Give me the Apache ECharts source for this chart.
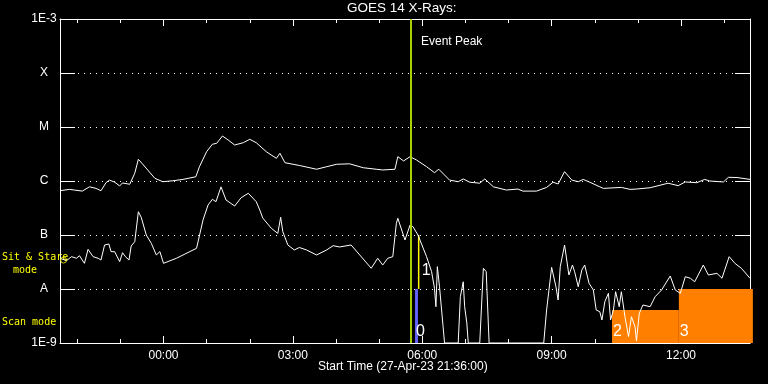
<!DOCTYPE html>
<html><head><meta charset="utf-8">
<script src="https://cdn.jsdelivr.net/npm/echarts@6/dist/echarts.min.js"></script>
<style>html,body{margin:0;padding:0;background:#000}#c{width:768px;height:384px}</style>
</head><body><div id="c"></div>
<script>
// ---- axis definitions ----
const startMinuteOfDay = 21 * 60 + 36;   // 21:36 on 27-Apr-23
const spanMinutes = 960;                  // 16 hours shown
const yTickLabels = {'-9': '1E-9', '-8': 'A', '-7': 'B', '-6': 'C', '-5': 'M', '-4': 'X', '-3': '1E-3'};

// ---- long channel (1-8 A), minutes since start / flux W m^-2 ----
const longMin = [0,13,20,31,41,50,57,64,69,76,83,87,97,104,109,114,122,132,143,157,171,189,194,204,212,218,226,234,243,255,264,273,287,301,306,313,333,357,371,385,403,422,440,449,466,470,478,487,496,510,521,527,542,554,561,570,584,591,603,621,637,644,663,677,686,693,702,712,721,728,737,751,756,781,793,802,821,846,860,870,886,897,904,923,930,942,960];
const longFlux = [6.6e-7,7.0e-7,6.8e-7,6.5e-7,7.8e-7,7.3e-7,6.6e-7,9.3e-7,1.04e-6,9.5e-7,8.1e-7,9.2e-7,8.7e-7,1.39e-6,2.52e-6,2.13e-6,1.60e-6,1.12e-6,9.7e-7,1.01e-6,1.07e-6,1.20e-6,1.84e-6,3.49e-6,4.79e-6,4.99e-6,6.81e-6,5.74e-6,4.64e-6,5.12e-6,5.92e-6,5.12e-6,3.49e-6,2.63e-6,3.26e-6,2.18e-6,1.94e-6,1.65e-6,1.84e-6,2.04e-6,2.08e-6,1.76e-6,1.65e-6,1.60e-6,1.65e-6,2.82e-6,2.35e-6,2.82e-6,2.45e-6,1.84e-6,1.43e-6,1.65e-6,1.04e-6,9.7e-7,1.09e-6,9.5e-7,9.1e-7,1.09e-6,7.8e-7,6.8e-7,7.1e-7,6.5e-7,6.5e-7,7.6e-7,9.5e-7,8.8e-7,1.49e-6,1.04e-6,9.7e-7,1.07e-6,9.5e-7,7.8e-7,7.3e-7,7.6e-7,7.0e-7,7.1e-7,7.5e-7,9.1e-7,8.2e-7,9.6e-7,9.3e-7,1.07e-6,1.0e-6,9.6e-7,1.17e-6,1.16e-6,1.07e-6];

// ---- short channel (0.5-4 A) ----
const shortMin = [0,9,16,23,27,34,39,46,53,57,62,68,71,76,83,87,91,96,99,104,109,113,120,127,134,139,144,162,190,199,206,212,217,224,231,243,252,262,273,278,282,294,303,307,310,317,326,333,343,357,371,380,389,405,417,433,442,449,456,463,468,470,480,487,491,498,510,517,521,523,525,528,533,535,554,557,561,563,566,568,584,589,593,597,673,677,684,690,693,696,702,708,713,716,721,726,730,736,742,746,751,754,758,763,766,770,773,778,781,786,791,795,800,802,806,811,821,828,837,849,856,863,870,877,883,895,902,914,921,931,939,948,960];
const shortFlux = [3.71e-8,3.34e-8,3.97e-8,3.71e-8,4.14e-8,2.99e-8,5.43e-8,3.97e-8,3.71e-8,3.44e-8,
 6.53e-8,6.81e-8,4.91e-8,4.91e-8,3.21e-8,4.70e-8,3.97e-8,3.44e-8,6.25e-8,7.52e-8,
 2.70e-7,2.13e-7,1.0e-7,7.02e-8,4.27e-8,4.91e-8,2.99e-8,3.71e-8,5.68e-8,1.90e-7,
 3.60e-7,4.58e-7,4.14e-7,7.8e-7,4.45e-7,3.44e-7,4.91e-7,5.92e-7,4.14e-7,2.90e-7,
 2.07e-7,1.33e-7,1.07e-7,2.13e-7,1.15e-7,6.53e-8,5.28e-8,5.87e-8,5.28e-8,4.27e-8,
 5.28e-8,6.34e-8,6.0e-8,6.53e-8,4.27e-8,2.42e-8,3.71e-8,2.78e-8,3.71e-8,3.97e-8,
 1.65e-7,2.04e-7,8.08e-8,1.53e-7,1.43e-7,1.0e-7,3.97e-8,2.09e-8,1.03e-8,4.70e-9,
 2.59e-8,1.10e-8,2.0e-9,1e-9,1e-9,7.2e-9,1.36e-8,4.70e-9,2.34e-9,1e-9,
 1e-9,2.42e-8,2.09e-8,1e-9,1e-9,4.08e-9,2.52e-8,1.10e-8,6.25e-9,2.59e-8,
 6.53e-8,1.82e-8,2.78e-8,2.09e-8,1.10e-8,2.25e-8,2.78e-8,1.28e-8,9.6e-9,4.08e-9,
 3.80e-9,2.67e-9,5.82e-9,8.32e-9,2.67e-9,4.08e-9,8.9e-9,4.70e-9,8.9e-9,3.07e-9,
 1.31e-9,3.07e-9,2.0e-9,1.1e-9,3.55e-9,5.06e-9,4.70e-9,7.2e-9,9.6e-9,1.74e-8,
 9.6e-9,8.32e-9,1.69e-8,1.58e-8,1.36e-8,2.78e-8,1.82e-8,1.95e-8,1.58e-8,3.97e-8,
 2.99e-8,2.42e-8,1.58e-8];

// ---- event / mode markers ----
const eventPeakMin = 488;
const modeStartMin = [494, 768, 861];
const modeEndMin = [498, 861, 964];
const modeTopFlux = [1e-8, 4.1e-9, 1e-8];
const modeLabels = ['0', '2', '3'];
const modeColors = ['#6464ff', '#ff8000', '#ff8000'];
const stareLineMin = [499];
const stareLineLow = [1e-8];
const stareLineHigh = [1e-7];
const stareLineLabels = ['1'];
const stareMarkMin = [5];
const stareMarkFlux = [3.44e-8];

// ---- build categories (one per minute) ----
const pad = n => String(n).padStart(2, '0');
const categories = [];
for (let i = 0; i <= spanMinutes; i++) {
  const m = (startMinuteOfDay + i) % 1440;
  categories.push(pad(Math.floor(m / 60)) + ':' + pad(m % 60));
}
const isHour = i => (startMinuteOfDay + i) % 60 === 0;
const isThreeHour = i => (startMinuteOfDay + i) % 180 === 0;

const FONT = 'Liberation Sans';
const MONO = 'DejaVu Sans Mono';
const zip = (a, b) => a.map((v, i) => [v, b[i]]);

function xAx(position, major, showLine, showLabel) {
  return {
    type: 'category', data: categories, boundaryGap: false, position: position,
    axisLine: {show: showLine, lineStyle: {color: '#fff', width: 1}},
    axisTick: {show: true, inside: true, length: major ? 7 : 4,
      interval: major ? (i) => isThreeHour(i) : (i) => isHour(i),
      lineStyle: {color: '#fff', width: 1}},
    axisLabel: {show: showLabel, interval: (i) => isThreeHour(i), color: '#fff',
      fontFamily: FONT, fontSize: 12, margin: 7},
    splitLine: {show: false}
  };
}

const chart = echarts.init(document.getElementById('c'), null, {renderer: 'canvas'});
chart.setOption({
  backgroundColor: '#000',
  animation: false,
  grid: {left: 60, right: 18, top: 19, bottom: 41, containLabel: false},
  xAxis: [
    xAx('bottom', true, true, true),
    xAx('bottom', false, false, false),
    xAx('top', true, true, false),
    xAx('top', false, false, false)
  ],
  yAxis: [
    {type: 'log', logBase: 10, min: 1e-9, max: 1e-3, interval: 1, position: 'left',
      axisLine: {show: true, lineStyle: {color: '#fff'}},
      axisTick: {show: true, inside: true, length: 15, lineStyle: {color: '#fff'}},
      axisLabel: {color: '#fff', fontFamily: FONT, fontSize: 12, align: 'center', margin: 16,
        formatter: v => yTickLabels[String(Math.round(Math.log10(v)))] || ''},
      splitLine: {show: true, lineStyle: {color: '#fff', type: [1, 5], width: 1}}},
    {type: 'log', logBase: 10, min: 1e-9, max: 1e-3, interval: 1, position: 'right',
      axisLine: {show: true, lineStyle: {color: '#fff'}},
      axisTick: {show: true, inside: true, length: 15, lineStyle: {color: '#fff'}},
      axisLabel: {show: false}, splitLine: {show: false}}
  ],
  series: [
    {
      type: 'custom', xAxisIndex: 0, yAxisIndex: 0, z: 1,
      data: modeStartMin.map((s, i) => [s, modeEndMin[i], modeTopFlux[i], i]),
      encode: {x: [0, 1], y: 2},
      renderItem: (params, api) => {
        const idx = api.value(3);
        const a = api.coord([api.value(0), api.value(2)]);
        const b = api.coord([api.value(1), 1e-9]);
        return {type: 'group', children: [
          {type: 'rect', shape: {x: a[0], y: a[1], width: b[0] - a[0], height: b[1] - a[1]},
            style: {fill: modeColors[idx]}},
          {type: 'text', style: {text: modeLabels[idx], x: a[0] + 1, y: b[1] - 3,
            verticalAlign: 'bottom', align: 'left', fill: '#fff', font: '16px ' + FONT}}
        ]};
      }
    },
    {
      type: 'custom', xAxisIndex: 0, yAxisIndex: 0, z: 1,
      data: stareLineMin.map((t, i) => [t, stareLineLow[i], stareLineHigh[i], i]),
      encode: {x: 0, y: [1, 2]},
      renderItem: (params, api) => {
        const idx = api.value(3);
        const lo = api.coord([api.value(0), api.value(1)]);
        const hi = api.coord([api.value(0), api.value(2)]);
        return {type: 'group', children: [
          {type: 'line', shape: {x1: lo[0], y1: lo[1], x2: hi[0], y2: hi[1]},
            style: {stroke: '#ffff00', lineWidth: 1.5}},
          {type: 'text', style: {text: stareLineLabels[idx], x: lo[0] + 3, y: lo[1] - 10,
            verticalAlign: 'bottom', align: 'left', fill: '#fff', font: '16px ' + FONT}}
        ]};
      }
    },
    {
      name: 'long', type: 'line', xAxisIndex: 0, yAxisIndex: 0, z: 3,
      data: zip(longMin, longFlux), showSymbol: false, symbol: 'none',
      lineStyle: {color: '#fff', width: 1}
    },
    {
      name: 'short', type: 'line', xAxisIndex: 0, yAxisIndex: 0, z: 3,
      data: zip(shortMin, shortFlux), showSymbol: false, symbol: 'none',
      lineStyle: {color: '#fff', width: 1}
    },
    {
      type: 'scatter', xAxisIndex: 0, yAxisIndex: 0, z: 4,
      data: zip(stareMarkMin, stareMarkFlux), symbol: 'circle', symbolSize: 6,
      itemStyle: {color: 'transparent', borderColor: '#ffff00', borderWidth: 1}
    },
    {
      type: 'line', xAxisIndex: 0, yAxisIndex: 0, z: 5, data: [],
      markLine: {silent: true, symbol: 'none', animation: false,
        label: {show: false},
        lineStyle: {color: '#a8d000', width: 2, type: 'solid'},
        data: [{xAxis: eventPeakMin}]}
    }
  ],
  graphic: [
    {type: 'text', left: 347, top: 1, style: {text: 'GOES 14 X-Rays:', fill: '#fff', font: '13.5px ' + FONT}},
    {type: 'text', left: 421, top: 36, style: {text: 'Event Peak', fill: '#fff', font: '12px ' + FONT}},
    {type: 'text', left: 318, top: 361, style: {text: 'Start Time (27-Apr-23 21:36:00)', fill: '#fff', font: '12px ' + FONT}},
    {type: 'text', left: 2, top: 252, style: {text: 'Sit & Stare', fill: '#ffff00', font: '10px ' + MONO}},
    {type: 'text', left: 13, top: 265, style: {text: 'mode', fill: '#ffff00', font: '10px ' + MONO}},
    {type: 'text', left: 2, top: 317, style: {text: 'Scan mode', fill: '#ffff00', font: '10px ' + MONO}}
  ]
});
</script>
</body></html>
